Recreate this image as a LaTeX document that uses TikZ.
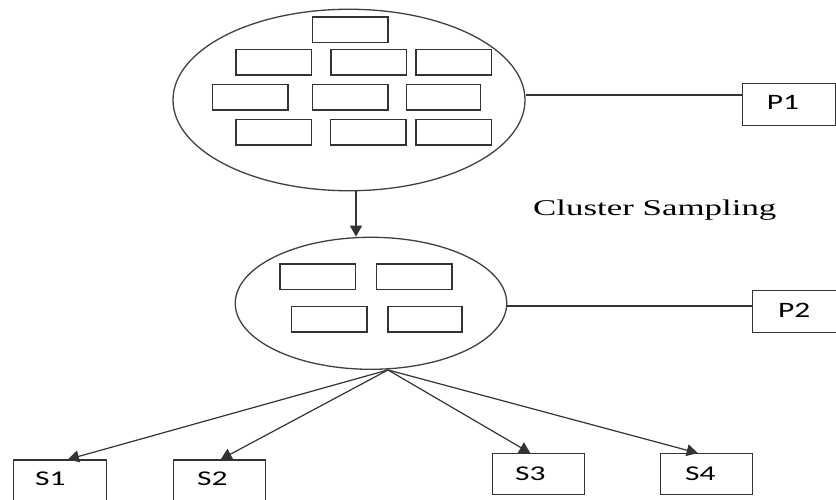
\documentclass[tikz,border=0pt]{standalone}
\usepackage{fontspec}
\usepackage{graphicx}
\setmainfont{Liberation Serif}
\newfontfamily\lblfont{Carlito}
\usetikzlibrary{shapes.geometric,arrows.meta}
\begin{document}
\begin{tikzpicture}[x=1pt,y=-1pt,
  oval/.style={draw=black!75,line width=1.3pt,ellipse,inner sep=0pt},
  cell/.style={draw=black!80,line width=1.5pt,minimum width=75.5pt,minimum height=25.5pt,inner sep=0pt},
  tag/.style={draw=black!80,line width=1.2pt,minimum width=92.3pt,minimum height=41pt,inner sep=0pt},
  lbl/.style={anchor=base west,inner sep=0pt,text=black},
  link/.style={draw=black!80,line width=1.2pt},
  arr/.style={link,-{Triangle[length=11pt,width=12pt]}}]
\useasboundingbox (0,0) rectangle (836,500);
\clip (0,0) rectangle (836,500);
\fill[white] (0,0) rectangle (836,500);

% big ellipse with its clusters
\node[oval,minimum width=352pt,minimum height=181.5pt] (E1) at (349,100) {};
\node[cell] (a1) at (350,30) {};
\node[cell] (b1) at (273.7,62.3) {};
\node[cell] (b2) at (368.7,62.3) {};
\node[cell] (b3) at (453.8,62.3) {};
\node[cell] (c1) at (250.3,97.3) {};
\node[cell] (c2) at (350.3,97.3) {};
\node[cell,minimum width=74pt] (c3) at (443.5,97.3) {};
\node[cell] (d1) at (273.5,132.5) {};
\node[cell] (d2) at (368.3,132.5) {};
\node[cell] (d3) at (453.8,132.5) {};

% small ellipse with selected clusters
\node[oval,minimum width=271.5pt,minimum height=132pt] (E2) at (371,303.3) {};
\node[cell] (e1) at (317.7,276.7) {};
\node[cell] (e2) at (414.3,276.7) {};
\node[cell] (f1) at (329.2,319.3) {};
\node[cell,minimum width=74pt] (f2) at (425.2,319.3) {};

% P boxes
\node[tag,minimum height=42.3pt] (P1) at (789,104.3) {};
\node[tag,minimum height=41.7pt] (P2) at (798.8,311.3) {};
\draw[link] ([yshift=5pt]E1.east) -- ([yshift=5pt]E1.east -| P1.west);
\draw[link] ([yshift=-2.7pt]E2.east) -- ([yshift=-2.7pt]E2.east -| P2.west);

\node[lbl] (P1t) at (766.7,109.3) {\scalebox{1.43}[1]{\lblfont\fontsize{22}{22}\selectfont P1}};
\node[lbl] (P2t) at (778,317) {\scalebox{1.43}[1]{\lblfont\fontsize{22}{22}\selectfont P2}};

\node[lbl] (cs) at (533,215) {\scalebox{1.55}[1]{\fontsize{22.5}{22.5}\selectfont Cluster Sampling}};

% arrow between ellipses
\draw[arr] ([xshift=7pt]E1.south) -- ([xshift=-15pt]E2.north);

% samples
\node[tag] (S1) at (60,480.5) {};
\node[tag] (S2) at (219.7,480.5) {};
\node[tag] (S3) at (538.3,474.2) {};
\node[tag] (S4) at (706.7,474.2) {};
\node[lbl] (S1t) at (35,485) {\scalebox{1.5}[1]{\lblfont\fontsize{21}{21}\selectfont S1}};
\node[lbl] (S2t) at (197,485) {\scalebox{1.5}[1]{\lblfont\fontsize{21}{21}\selectfont S2}};
\node[lbl] (S3t) at (515,480) {\scalebox{1.5}[1]{\lblfont\fontsize{21}{21}\selectfont S3}};
\node[lbl] (S4t) at (685,480) {\scalebox{1.5}[1]{\lblfont\fontsize{21}{21}\selectfont S4}};

\coordinate (apex) at ([xshift=17pt]E2.south);
\draw[arr] (apex) -- ([xshift=8pt]S1.north);
\draw[arr] (apex) -- ([xshift=1pt]S2.north);
\draw[arr] (apex) -- ([xshift=-8pt]S3.north);
\draw[arr] (apex) -- ([xshift=-9pt]S4.north);
\end{tikzpicture}
\end{document}
